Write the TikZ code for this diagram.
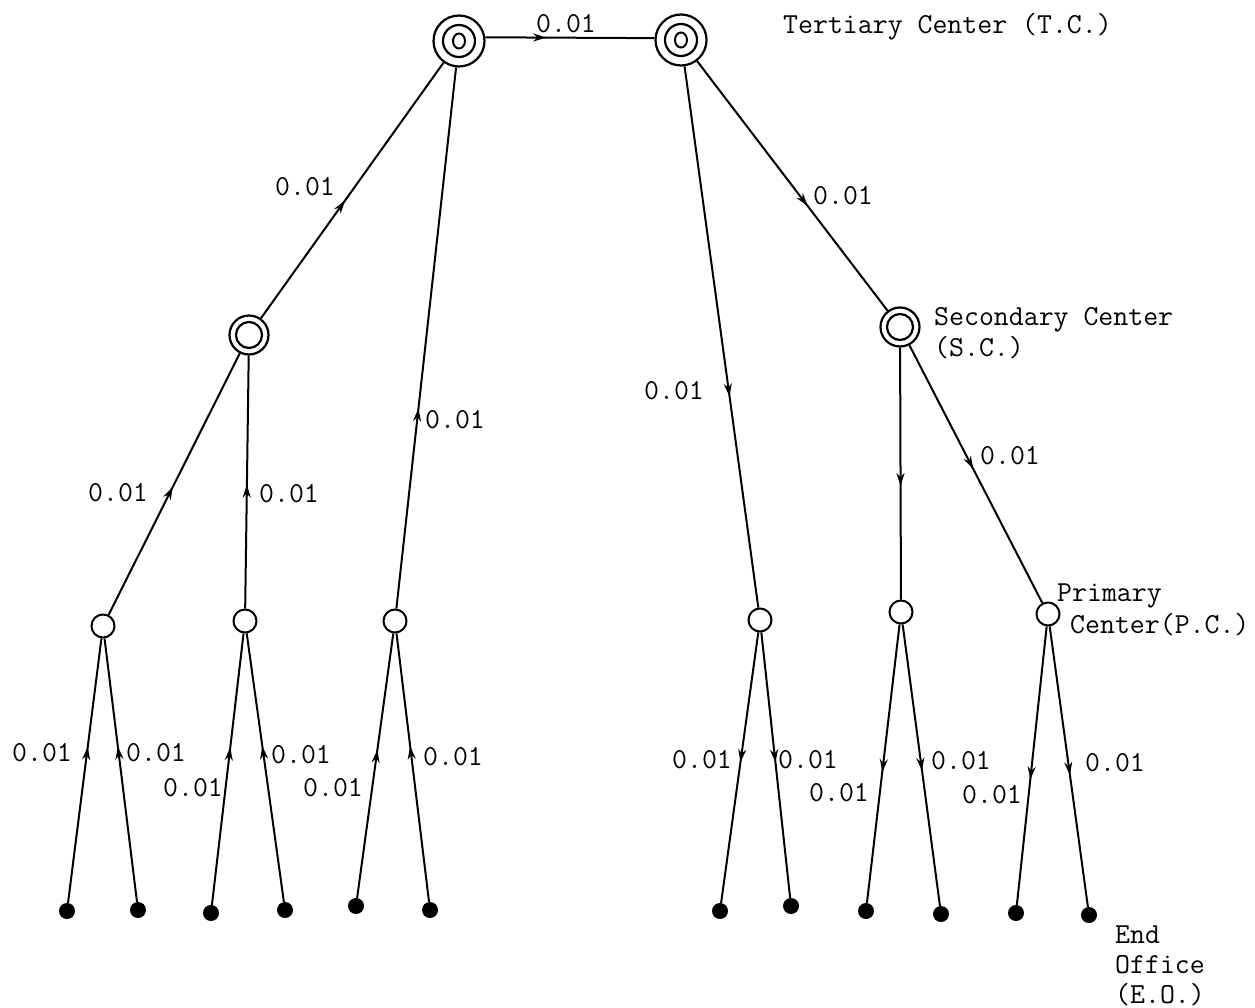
\documentclass[tikz,border=0pt]{standalone}
\usetikzlibrary{arrows.meta,decorations.markings}
\tikzset{
  tc/.style={circle, draw, line width=2.2pt, minimum size=51pt, inner sep=0pt,
    path picture={\draw[line width=2.2pt] (path picture bounding box.center) circle (16pt);
                  \draw[line width=2pt] (path picture bounding box.center) ellipse (6pt and 7.5pt);}},
  sc/.style={circle, draw, line width=2.2pt, minimum size=39pt, inner sep=0pt,
    path picture={\draw[line width=2.2pt] (path picture bounding box.center) circle (13pt);}},
  pc/.style={circle, draw, line width=2pt, minimum size=23pt, inner sep=0pt},
  eo/.style={circle, fill, minimum size=16pt, inner sep=0pt},
  link/.style={line width=2pt},
  flow/.style={postaction={decorate, decoration={markings,
      mark=at position #1 with {\arrow{Stealth[length=13pt,width=8pt]}}}}},
  lab/.style={font=\ttfamily\fontsize{29}{31}\selectfont, inner sep=0pt},
  txt/.style={font=\ttfamily\fontsize{29}{31}\selectfont, inner sep=0pt, anchor=base west}
}
\begin{document}
\begin{tikzpicture}[x=1pt,y=-1pt]
\useasboundingbox (0,0) rectangle (1255,1008);
% tertiary
\node[tc] (T1) at (459,41) {};
\node[tc] (T2) at (681,40) {};
% secondary
\node[sc] (S1) at (249,335) {};
\node[sc] (S2) at (900,327) {};
% primary
\node[pc] (P1) at (103,626) {};
\node[pc] (P2) at (245,621) {};
\node[pc] (P3) at (395,621) {};
\node[pc] (P4) at (760,620) {};
\node[pc] (P5) at (901,612) {};
\node[pc] (P6) at (1048,614) {};
% end offices
\node[eo] (E1) at (67,911) {};
\node[eo] (E2) at (138,910) {};
\node[eo] (E3) at (211,913) {};
\node[eo] (E4) at (285,910) {};
\node[eo] (E5) at (356,906) {};
\node[eo] (E6) at (430,910) {};
\node[eo] (E7) at (720,911) {};
\node[eo] (E8) at (791,906) {};
\node[eo] (E9) at (866,911) {};
\node[eo] (E10) at (941,914) {};
\node[eo] (E11) at (1016,913) {};
\node[eo] (E12) at (1089,915) {};

% links
\draw[link, flow=0.36] (T1.8) -- (T2.176);
\draw[link, flow=0.46] (S1) -- (T1);
\draw[link, flow=0.37] (P3) -- (T1);
\draw[link, flow=0.49] (P1) -- (S1);
\draw[link, flow=0.49] (P2) -- (S1);
\draw[link, flow=0.58] (T2) -- (S2);
\draw[link, flow=0.61] (T2) -- (P4);
\draw[link, flow=0.55] (S2) -- (P5);
\draw[link, flow=0.48] (S2) -- (P6);

\draw[link, flow=0.59] (E1) -- (P1);
\draw[link, flow=0.59] (E2) -- (P1);
\draw[link, flow=0.58] (E3) -- (P2);
\draw[link, flow=0.58] (E4) -- (P2);
\draw[link, flow=0.56] (E5) -- (P3);
\draw[link, flow=0.58] (E6) -- (P3);
\draw[link, flow=0.48] (P4) -- (E7);
\draw[link, flow=0.49] (P4) -- (E8);
\draw[link, flow=0.53] (P5) -- (E9);
\draw[link, flow=0.52] (P5) -- (E10);
\draw[link, flow=0.55] (P6) -- (E11);
\draw[link, flow=0.53] (P6) -- (E12);

% edge labels
\node[lab] (l0) at (566,24) {0.01};
\node[lab] (l1) at (305,187) {0.01};
\node[lab] (l2) at (455,420) {0.01};
\node[lab] (l3) at (118,493) {0.01};
\node[lab] (l4) at (289,494) {0.01};
\node[lab] (l5) at (674,391) {0.01};
\node[lab] (l6) at (843,196) {0.01};
\node[lab] (l7) at (1010,456) {0.01};
\node[lab] (b1) at (42,753) {0.01};
\node[lab] (b2) at (156,753) {0.01};
\node[lab] (b3) at (193,788) {0.01};
\node[lab] (b4) at (301,755) {0.01};
\node[lab] (b5) at (333,788) {0.01};
\node[lab] (b6) at (453,757) {0.01};
\node[lab] (b7) at (702,760) {0.01};
\node[lab] (b8) at (808,760) {0.01};
\node[lab] (b9) at (839,793) {0.01};
\node[lab] (b10) at (961,761) {0.01};
\node[lab] (b11) at (992,795) {0.01};
\node[lab] (b12) at (1115,763) {0.01};

% level texts
\node[txt] (tTC) at (783,34) {Tertiary Center (T.C.)};
\node[txt] (tSC1) at (934,325) {Secondary Center};
\node[txt] (tSC2) at (934,356) {(S.C.)};
\node[txt] (tPC1) at (1057,601) {Primary};
\node[txt] (tPC2) at (1070,633) {Center(P.C.)};
\node[txt] (tEO1) at (1115,943) {End};
\node[txt] (tEO2) at (1115,973) {Office};
\node[txt] (tEO3) at (1115,1003) {(E.O.)};
\end{tikzpicture}
\end{document}
